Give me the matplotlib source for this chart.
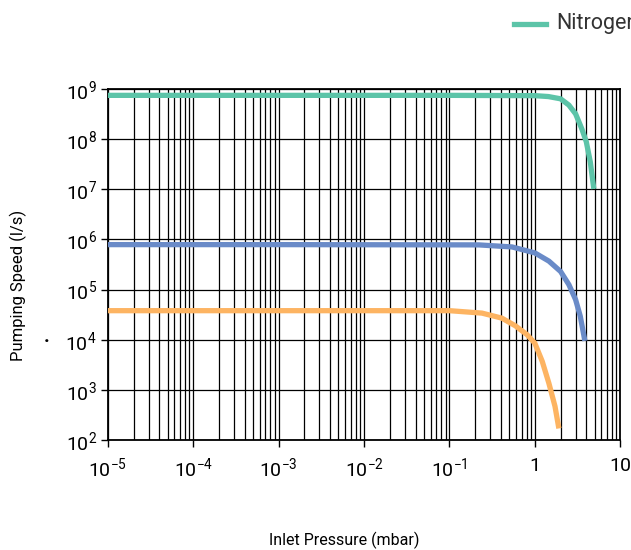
import matplotlib
matplotlib.use("Agg")
import matplotlib.pyplot as plt
from matplotlib.ticker import FixedLocator, LogLocator, NullFormatter

plt.rcParams['font.family'] = ['Roboto', 'DejaVu Sans']
plt.rcParams['mathtext.fontset'] = 'custom'
plt.rcParams['mathtext.rm'] = 'Roboto'
plt.rcParams['mathtext.it'] = 'Roboto'
plt.rcParams['axes.unicode_minus'] = False

# pressure (mbar) vs pumping speed (l/s)
green_p = [1e-5, 1e-3, 1e-1, 1.0, 1.44, 2.0, 2.5, 3.0, 3.55, 4.0, 4.46, 4.9]
green_s = [7.5e8, 7.5e8, 7.5e8, 7.4e8, 7.1e8, 6.4e8, 4.8e8, 3.2e8, 1.6e8, 8.9e7, 3.5e7, 1.02e7]

blue_p = [1e-5, 1e-3, 0.22, 0.54, 1.0, 1.46, 2.0, 2.5, 3.0, 3.4, 3.85]
blue_s = [7.9e5, 7.9e5, 7.8e5, 7.1e5, 5.4e5, 3.7e5, 2.3e5, 1.26e5, 6.3e4, 2.95e4, 9.5e3]

orange_p = [1e-5, 1e-3, 0.1, 0.24, 0.41, 0.59, 0.81, 1.0, 1.22, 1.46, 1.72, 1.91]
orange_s = [3.8e4, 3.8e4, 3.8e4, 3.4e4, 2.7e4, 1.9e4, 1.26e4, 8.5e3, 3.7e3, 1.35e3, 470, 170]

x_ticks = [1e-5, 1e-4, 1e-3, 1e-2, 1e-1, 1, 10]
x_labels = [r'$10^{-5}$', r'$10^{-4}$', r'$10^{-3}$', r'$10^{-2}$', r'$10^{-1}$', '1', '10']
y_ticks = [1e2, 1e3, 1e4, 1e5, 1e6, 1e7, 1e8, 1e9]
y_labels = [r'$10^{%d}$' % i for i in range(2, 10)]

fig = plt.figure(figsize=(6.31, 5.5), dpi=100)
ax = fig.add_axes([0.171, 0.2, 0.812, 0.638])

ax.plot(green_p, green_s, color='#5cc4a8', lw=3.8, solid_capstyle='butt', zorder=3)
ax.plot(blue_p, blue_s, color='#6a8bc8', lw=3.8, solid_capstyle='butt', zorder=3)
ax.plot(orange_p, orange_s, color='#fdb462', lw=3.8, solid_capstyle='butt', zorder=3)

ax.set_xscale('log')
ax.set_yscale('log')
ax.set_xlim(1e-5, 10)
ax.set_ylim(1e2, 1e9)

ax.xaxis.set_major_locator(FixedLocator(x_ticks))
ax.set_xticklabels(x_labels)
ax.xaxis.set_minor_locator(LogLocator(base=10, subs=range(2, 10)))
ax.xaxis.set_minor_formatter(NullFormatter())
ax.yaxis.set_major_locator(FixedLocator(y_ticks))
ax.set_yticklabels(y_labels)
ax.yaxis.set_minor_locator(FixedLocator([]))

ax.grid(True, which='major', color='black', lw=0.9)
ax.grid(True, which='minor', axis='x', color='black', lw=0.9)
ax.tick_params(which='major', labelsize=14, length=5, width=1, color='black')
ax.tick_params(axis='x', which='minor', length=0)
ax.tick_params(axis='x', pad=7)
ax.tick_params(axis='y', pad=3)
for s in ax.spines.values():
    s.set_linewidth(1.3)
ax.set_axisbelow(True)

# legend (cut off at the figure edge like the source)
fig.lines.append(plt.Line2D([514 / 631, 546 / 631], [1 - 24 / 550] * 2,
                            transform=fig.transFigure, color='#5cc4a8', lw=3.8))
fig.text(556 / 631, 1 - 24 / 550, 'Nitrogen', fontsize=15.5, va='center', color='#333333')

fig.text(18 / 631, 1 - 285 / 550, 'Pumping Speed (l/s)', rotation=90, fontsize=12,
         va='center', ha='center')
fig.text(47 / 631, 1 - 337 / 550, '.', fontsize=14, ha='center', va='center',
         fontweight='bold')
fig.text(344 / 631, 1 - 540 / 550, 'Inlet Pressure (mbar)', fontsize=11.5,
         ha='center', va='center')

fig.savefig('out.png', dpi=100)
